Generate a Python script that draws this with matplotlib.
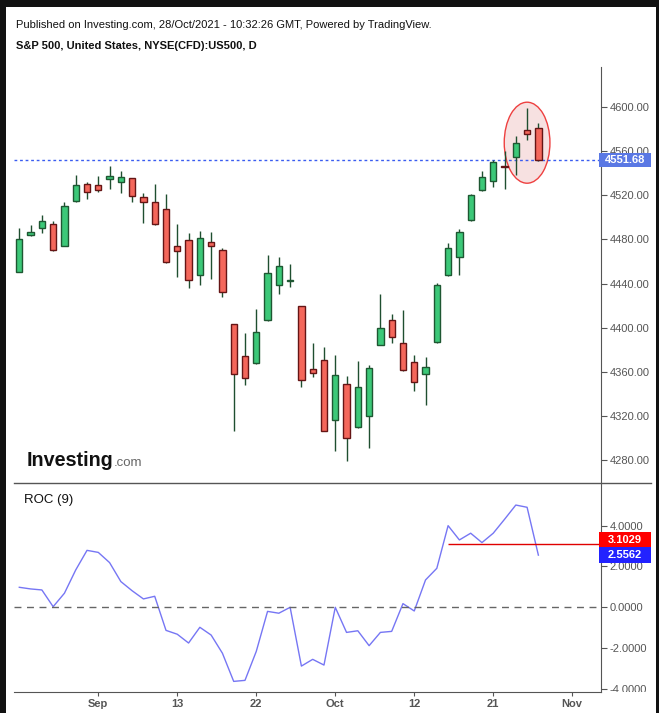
import matplotlib
matplotlib.use("Agg")
import matplotlib.pyplot as plt
from matplotlib.patches import Rectangle, Ellipse
from matplotlib.lines import Line2D
from matplotlib.transforms import Bbox, TransformedBbox
import numpy as np

plt.rcParams['font.family'] = ['Liberation Sans', 'DejaVu Sans']

# daily candles, Aug 23 .. Oct 27 2021 (trading days)
opens = [4450.1, 4484.2, 4490.5, 4493.6, 4474.2, 4514.4, 4529.8, 4528.9, 4534.3, 4532.1,
         4535.2, 4518.0, 4513.5, 4507.1, 4474.2, 4479.1, 4447.4, 4477.3, 4470.0, 4403.1,
         4374.1, 4367.8, 4406.7, 4438.4, 4442.0, 4419.4, 4362.4, 4370.5, 4316.7, 4348.8,
         4309.9, 4319.8, 4384.1, 4406.7, 4385.9, 4368.7, 4357.8, 4386.8, 4447.4, 4463.7,
         4497.2, 4524.3, 4532.5, 4546.2, 4554.2, 4578.6, 4580.5]
highs = [4490.2, 4492.9, 4502.0, 4496.6, 4513.8, 4538.2, 4531.6, 4537.3, 4546.3, 4541.8,
         4535.6, 4521.9, 4530.0, 4521.0, 4493.8, 4485.7, 4487.5, 4486.6, 4471.9, 4403.5,
         4395.2, 4416.9, 4465.8, 4464.0, 4457.6, 4419.6, 4386.2, 4382.5, 4375.3, 4356.3,
         4369.9, 4366.0, 4430.5, 4412.4, 4416.0, 4375.0, 4373.5, 4440.4, 4476.7, 4489.0,
         4520.7, 4541.8, 4551.8, 4559.9, 4573.5, 4598.8, 4585.2]
lows = [4450.1, 4483.3, 4486.0, 4469.5, 4474.0, 4514.0, 4516.7, 4523.0, 4525.8, 4522.2,
        4514.0, 4495.0, 4493.0, 4459.0, 4446.2, 4436.2, 4438.9, 4444.3, 4428.0, 4306.8,
        4348.4, 4367.5, 4406.0, 4430.8, 4437.0, 4346.6, 4355.7, 4306.5, 4288.7, 4279.6,
        4309.5, 4291.4, 4384.0, 4386.4, 4361.0, 4343.0, 4330.3, 4386.5, 4447.0, 4448.0,
        4497.0, 4524.0, 4527.6, 4525.2, 4538.5, 4569.9, 4551.0]
closes = [4480.0, 4486.3, 4496.3, 4470.0, 4509.9, 4528.9, 4522.5, 4524.3, 4537.0, 4536.1,
          4519.5, 4514.0, 4493.6, 4459.2, 4469.1, 4442.9, 4480.9, 4473.7, 4432.6, 4357.8,
          4354.2, 4395.8, 4449.2, 4455.6, 4443.0, 4352.4, 4359.3, 4306.8, 4356.9, 4300.5,
          4346.0, 4363.3, 4399.5, 4391.3, 4361.4, 4350.6, 4364.2, 4438.4, 4471.9, 4486.3,
          4519.8, 4536.1, 4549.7, 4545.2, 4566.9, 4575.0, 4551.68]

roc = [0.98, 0.90, 0.85, 0.03, 0.69, 1.83, 2.79, 2.69, 2.19, 1.26,
       0.81, 0.41, 0.54, -1.13, -1.32, -1.75, -0.98, -1.36, -2.25, -3.63,
       -3.58, -2.16, -0.20, -0.29, 0.0, -2.88, -2.55, -2.83, 0.0, -1.23,
       -1.15, -1.88, -1.23, -1.18, 0.18, -0.18, 1.34, 1.91, 4.00, 3.30,
       3.63, 3.17, 3.63, 4.31, 5.01, 4.90, 2.5562]

tick_pos = [7, 14, 21, 28, 35, 42, 49]
tick_labels = ['Sep', '13', '22', 'Oct', '12', '21', 'Nov']
price_ticks = list(range(4280, 4601, 40))
roc_ticks = [-4, -2, 0, 2, 4]
last_price = 4551.68
roc_last = 2.5562
roc_signal = 3.1029
signal_start = 38
circle_center = (45, 4567.4)
circle_size = (4.05, 73.3)

W, H = 659, 713
fig = plt.figure(figsize=(W / 100, H / 100), dpi=100)
fig.patch.set_facecolor('#111111')
fig.patches.append(Rectangle((6 / W, 0), 650 / W, (H - 7) / H, transform=fig.transFigure,
                             facecolor='white', edgecolor='none', zorder=-1))


def px_axes(left, top, right, bottom):
    return fig.add_axes([left / W, 1 - bottom / H, (right - left) / W, (bottom - top) / H])


ax = px_axes(14, 67, 601, 483)
rx = px_axes(14, 483, 601, 692)
xlim = (-0.47, 51.55)
grey = '#555555'

# candles
x = np.arange(len(opens))
for i in x:
    o, h, l, c = opens[i], highs[i], lows[i], closes[i]
    up = c >= o
    fill = '#3cc878' if up else '#f4675b'
    edge = '#1e5732' if up else '#651515'
    ax.vlines(i, l, h, color='#1f4f30', lw=1, zorder=3)
    ax.add_patch(Rectangle((i - 0.28, min(o, c)), 0.56, max(abs(c - o), 0.8),
                           facecolor=fill, edgecolor=edge, lw=1, zorder=4))

ax.add_patch(Ellipse(circle_center, circle_size[0], circle_size[1],
                     facecolor='#f7e1e1', edgecolor='#ee4040', lw=1, zorder=2))
ax.axhline(last_price, color='#3a5cf0', lw=1, ls=(0, (2, 2)), zorder=2)

ax.set_xlim(xlim)
ax.set_ylim(4259.5, 4635.9)
ax.set_xticks([])
for s in ['top', 'left', 'bottom']:
    ax.spines[s].set_visible(False)
ax.spines['right'].set_color(grey)
ax.yaxis.tick_right()
ax.set_yticks(price_ticks)
ax.set_yticklabels(['%.2f' % v for v in price_ticks])
ax.tick_params(axis='y', direction='out', length=4, color=grey, labelcolor=grey,
               labelsize=8, pad=2)

# ROC pane
rx.plot(x, roc, color='#7676f4', lw=1)
rx.axhline(0, color='#666666', lw=1, ls=(0, (5, 4)))
rx.hlines(roc_signal, signal_start, xlim[1], color='#e00000', lw=1)
rx.set_xlim(xlim)
rx.set_ylim(-4.15, 6.09)
for s in ['top', 'left']:
    rx.spines[s].set_visible(False)
rx.spines['right'].set_color(grey)
rx.spines['bottom'].set_color(grey)
rx.yaxis.tick_right()
rx.set_yticks(roc_ticks)
rx.set_yticklabels(['%.4f' % v for v in roc_ticks])
rx.tick_params(axis='y', direction='out', length=4, color=grey, labelcolor=grey,
               labelsize=8, pad=2)
rx.set_xticks(tick_pos)
rx.set_xticklabels(tick_labels, fontweight='bold')
rx.tick_params(axis='x', direction='out', length=3, color=grey, labelcolor=grey,
               labelsize=8, pad=2)

clip = TransformedBbox(Bbox.from_extents(0, 1 - 692 / H, 1, 1 - 483 / H), fig.transFigure)
for t in rx.yaxis.get_major_ticks():
    t.label2.set_clip_box(clip)
    t.label2.set_clip_on(True)

fig.add_artist(Line2D([14 / W, 651 / W], [1 - 483 / H] * 2, transform=fig.transFigure,
                      color=grey, lw=1))


def tag(a, value, label, color, box_px=15):
    y0, y1 = a.get_ylim()
    half = box_px / 2 * (y1 - y0) / (a.get_position().height * H)
    x0 = (599 - 14) / 587
    x1 = (651 - 14) / 587
    a.add_patch(Rectangle((x0, value - half), x1 - x0, 2 * half, transform=a.get_yaxis_transform(),
                          facecolor=color, edgecolor='none', clip_on=False, zorder=10))
    a.text((x0 + x1) / 2, value, label, transform=a.get_yaxis_transform(), ha='center',
           va='center', color='white', fontsize=8, fontweight='bold', clip_on=False, zorder=11)
    return 2 * half


tag(ax, last_price, '%.2f' % last_price, '#5a78e4', box_px=14)
step = tag(rx, roc_last, '%.4f' % roc_last, '#2222ff', box_px=15.5)
tag(rx, roc_last + step, '%.4f' % roc_signal, '#ff0000', box_px=15.5)

# header, labels, logo
fig.text(16 / W, 1 - 25 / H, 'Published on Investing.com, 28/Oct/2021 - 10:32:26 GMT, Powered by TradingView.',
         fontsize=8, va='center', color='#111111')
fig.text(16 / W, 1 - 46 / H, 'S&P 500, United States, NYSE(CFD):US500, D',
         fontsize=8, fontweight='bold', va='center', color='#111111')
fig.text(24 / W, 1 - 500 / H, 'ROC (9)', fontsize=9.5, va='center', color='#111111')
fig.text(27 / W, 1 - 466.5 / H, 'Investing', fontsize=14.2, fontweight='bold', va='baseline',
         color='#111111')
fig.text(114 / W, 1 - 466.5 / H, '.com', fontsize=9.5, va='baseline', color='#666666')

fig.savefig('out.png', dpi=100, facecolor=fig.get_facecolor())
